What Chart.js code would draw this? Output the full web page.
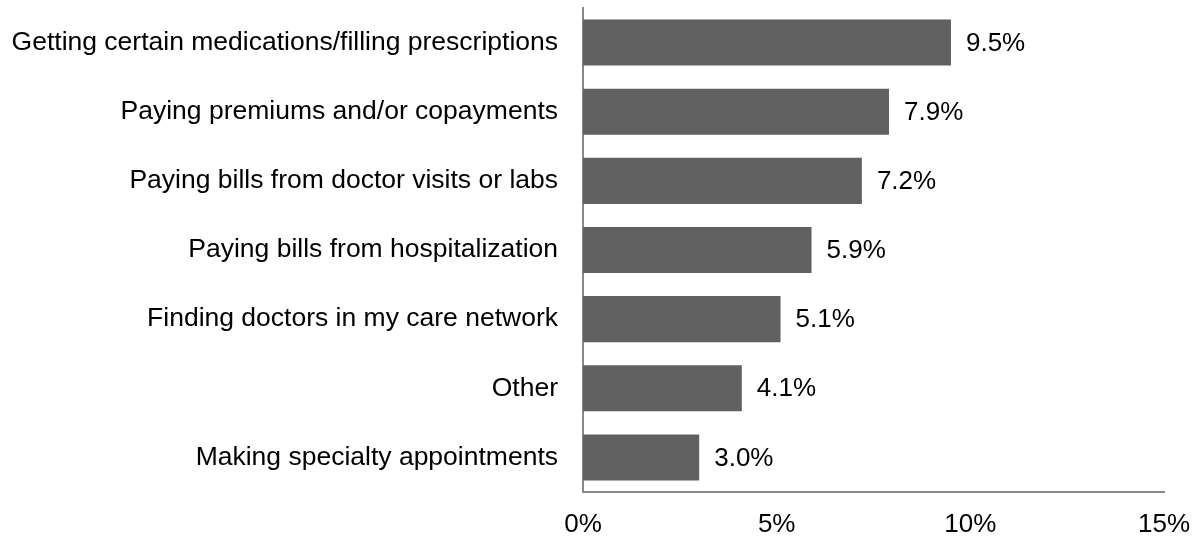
<!DOCTYPE html>
<html>
<head>
<meta charset="utf-8">
<script src="https://cdn.jsdelivr.net/npm/chart.js@4/dist/chart.umd.min.js"></script>
<style>
  html, body { margin: 0; padding: 0; background: #fff; }
  #wrap { width: 1198px; height: 539px; }
</style>
</head>
<body>
<div id="wrap"><canvas id="chart" width="1198" height="539"></canvas></div>
<script>
// Reported difficulties, share of respondents (%)
const categories = [
  'Getting certain medications/filling prescriptions',
  'Paying premiums and/or copayments',
  'Paying bills from doctor visits or labs',
  'Paying bills from hospitalization',
  'Finding doctors in my care network',
  'Other',
  'Making specialty appointments'
];
const shares = [9.5, 7.9, 7.2, 5.9, 5.1, 4.1, 3.0];
const xTicks = [0, 5, 10, 15];

const FONT = "'Liberation Sans', Arial, sans-serif";

// Writes each bar's value just past its end
const valueLabels = {
  id: 'valueLabels',
  afterDatasetsDraw(chart) {
    const ctx = chart.ctx;
    const meta = chart.getDatasetMeta(0);
    ctx.save();
    ctx.font = '26px ' + FONT;
    ctx.fillStyle = '#000';
    ctx.textAlign = 'left';
    ctx.textBaseline = 'middle';
    meta.data.forEach((bar, i) => {
      ctx.fillText(shares[i].toFixed(1) + '%', bar.x + 15, bar.y + 1);
    });
    ctx.restore();
  }
};

// Keep the plot area fixed: no extra room reserved for overhanging tick labels
function noLabelPadding(scale) {
  scale.paddingTop = 0;
  scale.paddingBottom = 0;
  scale.paddingLeft = 0;
  scale.paddingRight = 0;
}

new Chart(document.getElementById('chart'), {
  type: 'bar',
  data: {
    labels: categories,
    datasets: [{
      data: shares,
      backgroundColor: '#616161',
      borderWidth: 0,
      barPercentage: 0.666,
      categoryPercentage: 1.0
    }]
  },
  options: {
    indexAxis: 'y',
    responsive: false,
    animation: false,
    layout: { padding: { top: 8, right: 34, left: 0, bottom: 0 } },
    plugins: {
      legend: { display: false },
      tooltip: { enabled: false }
    },
    scales: {
      x: {
        min: 0,
        max: 15,
        afterBuildTicks(scale) {
          scale.ticks = xTicks.map(v => ({ value: v }));
        },
        afterFit(scale) { scale.height = 47; noLabelPadding(scale); },
        grid: { display: false, drawTicks: false },
        border: { display: true, color: '#898989', width: 2 },
        ticks: {
          padding: 17,
          color: '#000',
          font: { family: FONT, size: 26 },
          callback: v => v + '%'
        }
      },
      y: {
        afterFit(scale) { scale.width = 583; noLabelPadding(scale); },
        grid: { display: false, drawTicks: false },
        border: { display: true, color: '#898989', width: 2 },
        ticks: {
          padding: 25,
          color: '#000',
          font: { family: FONT, size: 26.5 }
        }
      }
    }
  },
  plugins: [valueLabels]
});
</script>
</body>
</html>
